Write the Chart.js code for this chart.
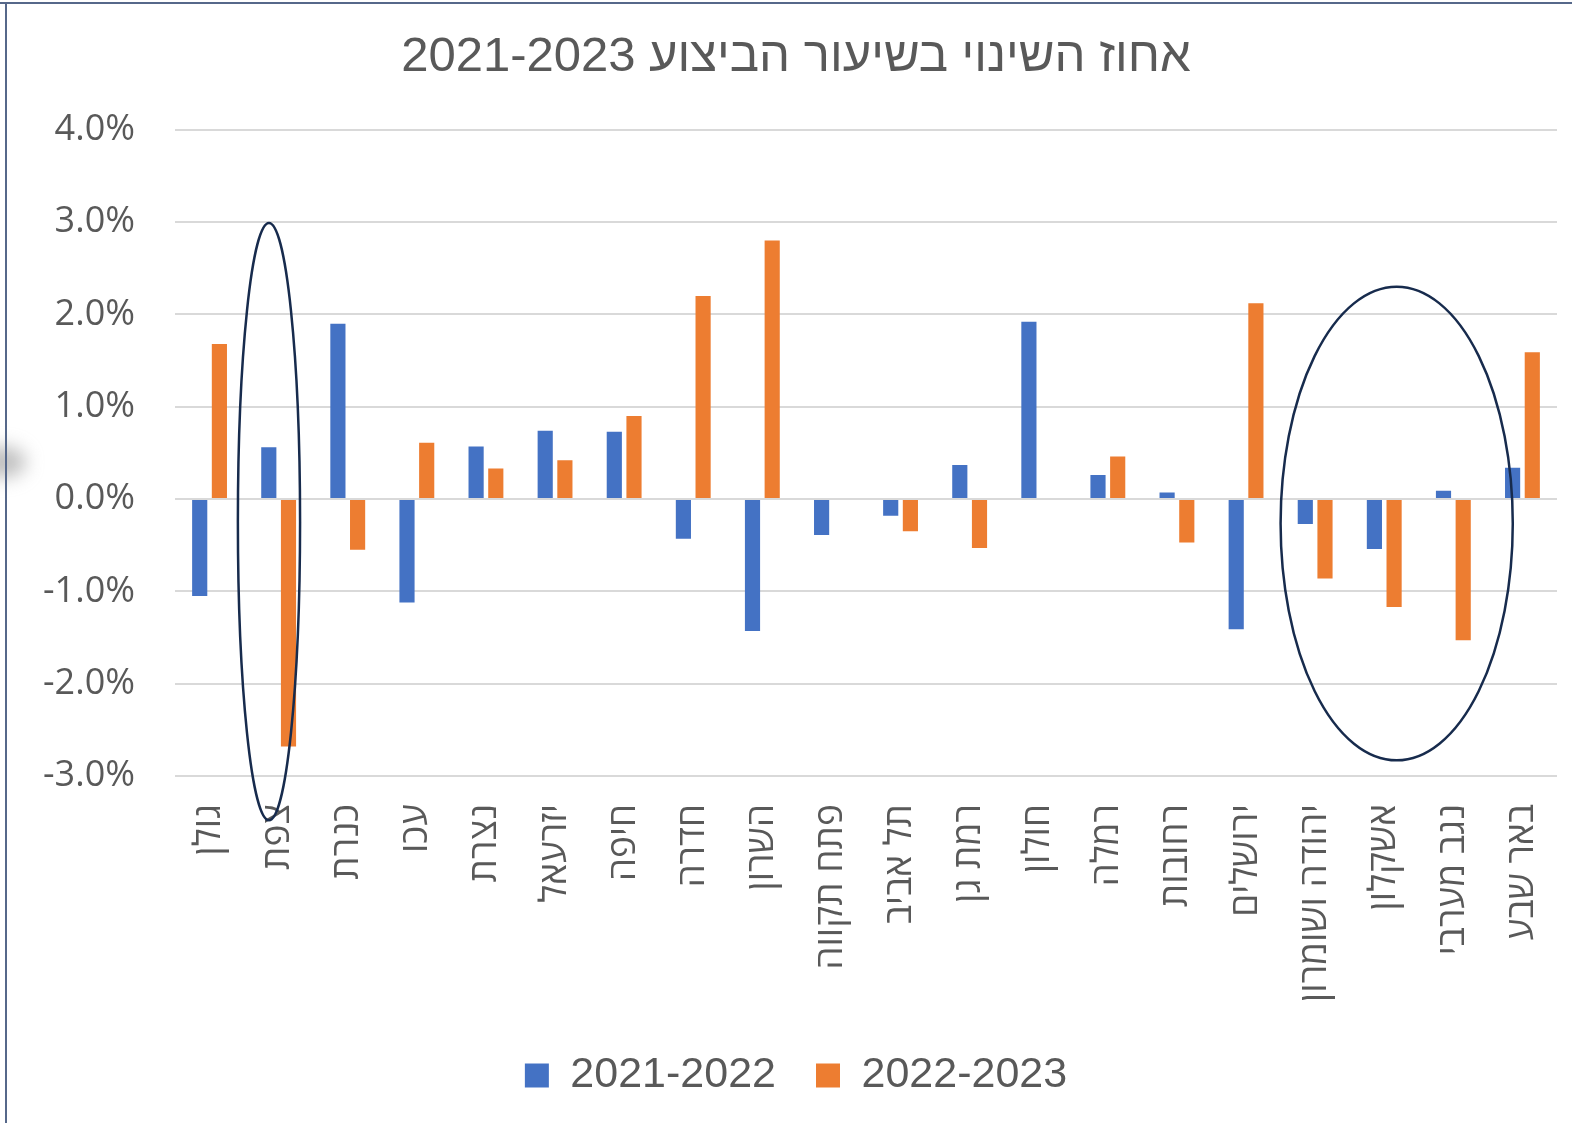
<!DOCTYPE html>
<html lang="he">
<head>
<meta charset="utf-8">
<title>אחוז השינוי בשיעור הביצוע 2021-2023</title>
<script src="https://cdn.jsdelivr.net/npm/chart.js@4.4.1/dist/chart.umd.min.js"></script>
<style>
    html, body { margin: 0; padding: 0; background: #ffffff; }
    #wrap { width: 1572px; height: 1123px; position: relative; }
</style>
</head>
<body>
<div id="wrap"><canvas id="changeChart"></canvas></div>

<script>
/* =========================================
   DATA
   -----------------------------------------
   Percentage change of execution rate
   per district, two periods
========================================= */

const districts = [
    "גולן", "צפת", "כנרת", "עכו", "נצרת", "יזרעאל", "חיפה", "חדרה", "השרון", "פתח תקווה",
    "תל אביב", "רמת גן", "חולון", "רמלה", "רחובות", "ירושלים", "יהודה ושומרון", "אשקלון", "נגב מערבי", "באר שבע"
];

const change2122 = [-1.05, 0.56, 1.90, -1.12, 0.57, 0.74, 0.73, -0.43, -1.43, -0.39,
                    -0.18, 0.37, 1.92, 0.26, 0.07, -1.41, -0.27, -0.54, 0.09, 0.34];

const change2223 = [1.68, -2.68, -0.55, 0.61, 0.33, 0.42, 0.90, 2.20, 2.80, 0,
                    -0.35, -0.53, 0, 0.46, -0.47, 2.12, -0.86, -1.17, -1.53, 1.59];

const seriesNames = ["2021-2022", "2022-2023"];
const yTicks = [-3, -2, -1, 0, 1, 2, 3, 4];

// hand drawn ellipses (category index / value units)
const highlights = [
    { cx: 0.86, rx: 0.45, top: 2.99, bottom: -3.48 },
    { cx: 17.18, rx: 1.68, top: 2.30, bottom: -2.83 }
];

const TEXT = "#595959";


/* -------------------------------------
   FRAME PLUGIN
   -------------------------------------
   white background, frame lines on top
   and left, soft grey smudge at left
------------------------------------- */
const framePlugin = {
    id: "frame",
    beforeDraw(chart) {
        const ctx = chart.ctx;
        ctx.save();
        ctx.fillStyle = "#ffffff";
        ctx.fillRect(0, 0, chart.width, chart.height);

        ctx.filter = "blur(9px)";
        ctx.fillStyle = "rgba(140,140,140,0.55)";
        ctx.beginPath();
        ctx.ellipse(2, 462, 24, 16, 0, 0, Math.PI * 2);
        ctx.fill();
        ctx.filter = "none";

        ctx.strokeStyle = "#56688a";
        ctx.lineWidth = 2;
        ctx.beginPath();
        ctx.moveTo(0, 3);
        ctx.lineTo(chart.width, 3);
        ctx.moveTo(6, 3);
        ctx.lineTo(6, chart.height);
        ctx.stroke();
        ctx.restore();
    }
};


/* -------------------------------------
   ELLIPSE PLUGIN
   -------------------------------------
   outlines drawn over the chart, placed
   through the x and y scales
------------------------------------- */
const ellipsePlugin = {
    id: "ellipses",
    afterDraw(chart) {
        const xs = chart.scales.x;
        const ys = chart.scales.y;
        const step = xs.width / districts.length;
        const ctx = chart.ctx;
        ctx.save();
        ctx.strokeStyle = "#172b4d";
        ctx.lineWidth = 2.5;
        highlights.forEach(h => {
            const cx = xs.getPixelForValue(h.cx);
            const top = ys.getPixelForValue(h.top);
            const bottom = ys.getPixelForValue(h.bottom);
            ctx.beginPath();
            ctx.ellipse(cx, (top + bottom) / 2, h.rx * step, (bottom - top) / 2, 0, 0, Math.PI * 2);
            ctx.stroke();
        });
        ctx.restore();
    }
};


/* =====================================
   BAR CHART
===================================== */
new Chart(document.getElementById("changeChart"), {
    type: "bar",
    data: {
        labels: districts,
        datasets: [
            {
                label: seriesNames[0],
                data: change2122,
                backgroundColor: "#4472c4",
                categoryPercentage: 0.57,
                barPercentage: 0.77
            },
            {
                label: seriesNames[1],
                data: change2223,
                backgroundColor: "#ed7d31",
                categoryPercentage: 0.57,
                barPercentage: 0.77
            }
        ]
    },
    options: {
        responsive: true,
        maintainAspectRatio: false,
        animation: false,
        layout: { padding: { top: 0, left: 35, right: 15, bottom: 16 } },
        plugins: {
            title: {
                display: true,
                text: "אחוז השינוי בשיעור הביצוע 2021-2023",
                color: TEXT,
                font: { family: "'Liberation Sans', Arial, sans-serif", size: 49, weight: "normal" },
                padding: { top: 28, bottom: 43 }
            },
            legend: {
                position: "bottom",
                labels: {
                    color: TEXT,
                    font: { family: "'Liberation Sans', Arial, sans-serif", size: 43 },
                    boxWidth: 24,
                    boxHeight: 24,
                    padding: 40
                }
            },
            tooltip: { enabled: false }
        },
        scales: {
            x: {
                grid: { display: false, drawTicks: false },
                border: { display: false },
                ticks: {
                    color: TEXT,
                    font: { family: "'Open Sans', 'Liberation Sans', sans-serif", size: 37 },
                    minRotation: 90,
                    maxRotation: 90,
                    autoSkip: false,
                    padding: 28
                },
                afterFit(scale) {
                    scale.height = 238;
                    scale.paddingLeft = 0;
                    scale.paddingRight = 0;
                }
            },
            y: {
                min: -3,
                max: 4,
                afterBuildTicks(scale) { scale.ticks = yTicks.map(v => ({ value: v })); },
                grid: { color: "#d9d9d9", lineWidth: 2, drawTicks: false },
                border: { display: false },
                ticks: {
                    color: TEXT,
                    font: { family: "'Open Sans', 'Liberation Sans', sans-serif", size: 36 },
                    padding: 40,
                    callback: v => v.toFixed(1) + "%"
                },
                afterFit(scale) { scale.width = 140; }
            }
        }
    },
    plugins: [framePlugin, ellipsePlugin]
});
</script>
</body>
</html>
